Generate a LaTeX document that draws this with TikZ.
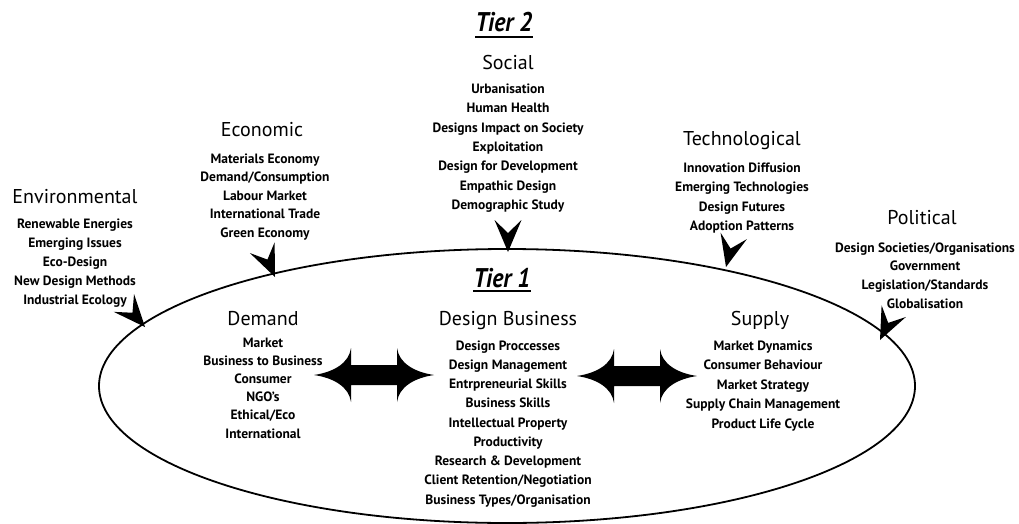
\documentclass[tikz,border=0pt]{standalone}
\usepackage{fontspec}
\setmainfont{PT Sans}
\newfontfamily\itemfont{PT Sans}
\newfontfamily\headfont{PT Sans}
\newfontfamily\tierfont{PT Sans}[FakeStretch=0.88]
\usetikzlibrary{shapes.geometric}
\tikzset{
  item/.style={font=\itemfont\bfseries\fontsize{13.5}{16}\selectfont, inner sep=0pt, anchor=base},
  head/.style={font=\headfont\fontsize{20}{24}\selectfont, inner sep=0pt, anchor=base},
  tier/.style={font=\tierfont\bfseries\itshape\fontsize{27}{30}\selectfont, inner sep=0pt, anchor=base},
  uline/.style={line width=1.6pt},
  ring/.style={draw, ellipse, line width=1.8pt, inner sep=0pt, minimum width=816pt, minimum height=274pt},
  headfill/.style={fill=black},
  dblfill/.style={fill=black},
}
% arrow head pointing along +x at the origin
\newcommand\tiphead[2]{\fill[headfill, shift={(#1)}, rotate=#2] (0,0) -- (-32,13.5) -- (-19,0) -- (-32,-13.5) -- cycle;}
\newcommand\dblarrow[1]{\fill[dblfill, shift={(#1)}]
  (-60,0) .. controls (-40,-3) and (-25,-12) .. (-23,-27) -- (-23,-10) -- (23,-10) -- (23,-27)
  .. controls (25,-12) and (40,-3) .. (60,0) .. controls (40,3) and (25,12) .. (23,27)
  -- (23,10) -- (-23,10) -- (-23,27) .. controls (-25,12) and (-40,3) .. (-60,0) -- cycle;}
\begin{document}
\begin{tikzpicture}[x=1pt, y=-1pt]
\useasboundingbox (0,0) rectangle (1019,524);

\node[ring] (ring) at (507,386) {};

% Tier labels
\node[tier] (tier2) at (504,32) {Tier 2};
\draw[uline] ([yshift=-5pt]tier2.base west) -- ([yshift=-5pt]tier2.base east);
\node[tier] (tier1) at (502,287) {Tier 1};
\draw[uline] ([yshift=-4pt]tier1.base west) -- ([yshift=-4pt]tier1.base east);

% Tier 2 headings
\node[head] (env) at (75,203) {Environmental};
\node[head] (eco) at (262,136) {Economic};
\node[head] (soc) at (508,70) {Social};
\node[head] (tec) at (742,146) {Technological};
\node[head] (pol) at (922,224) {Political};

\foreach \t [count=\i from 0] in {Renewable Energies, Emerging Issues, Eco-Design, New Design Methods, Industrial Ecology}
  \node[item] (env\i) at (75,{228+19*\i}) {\t};
\foreach \t [count=\i from 0] in {Materials Economy, Demand/Consumption, Labour Market, International Trade, Green Economy}
  \node[item] (eco\i) at (265,{163+18.6*\i}) {\t};
\foreach \t [count=\i from 0] in {Urbanisation, Human Health, Designs Impact on Society, Exploitation, Design for Development, Empathic Design, Demographic Study}
  \node[item] (soc\i) at (508,{93.5+19.3*\i}) {\t};
\foreach \t [count=\i from 0] in {Innovation Diffusion, Emerging Technologies, Design Futures, Adoption Patterns}
  \node[item] (tec\i) at (742,{172+19.6*\i}) {\t};
\foreach \t [count=\i from 0] in {Design Societies/Organisations, Government, Legislation/Standards, Globalisation}
  \node[item] (pol\i) at (925,{252+18.8*\i}) {\t};

% Tier 1 headings
\node[head] (dem) at (263,325) {Demand};
\node[head] (dbu) at (508,325) {Design Business};
\node[head] (sup) at (760,325) {Supply};

\foreach \t [count=\i from 0] in {Market, Business to Business, Consumer, NGO’s, Ethical/Eco, International}
  \node[item] (dem\i) at (263,{347+18.2*\i}) {\t};
\foreach \t [count=\i from 0] in {Design Proccesses, Design Management, Entrpreneurial Skills, Business Skills, Intellectual Property, Productivity, Research \& Development, Client Retention/Negotiation, Business Types/Organisation}
  \node[item] (dbu\i) at (508,{350+19.25*\i}) {\t};
\foreach \t [count=\i from 0] in {Market Dynamics, Consumer Behaviour, Market Strategy, Supply Chain Management, Product Life Cycle}
  \node[item] (sup\i) at (763,{350+19.5*\i}) {\t};

% arrow heads onto the ellipse
\coordinate (tipenv) at (145,327);
\coordinate (tipeco) at (275,277);
\coordinate (tipsoc) at (508,252);
\coordinate (tiptec) at (726,267);
\coordinate (tippol) at (880,340);
\tiphead{tipenv}{-48.7}
\tiphead{tipeco}{-66.5}
\tiphead{tipsoc}{-90}
\tiphead{tiptec}{-103.9}
\tiphead{tippol}{-115.5}

% double arrows
\coordinate (dblL) at (374,375);
\coordinate (dblR) at (637,376);
\dblarrow{dblL}
\dblarrow{dblR}
\end{tikzpicture}
\end{document}
